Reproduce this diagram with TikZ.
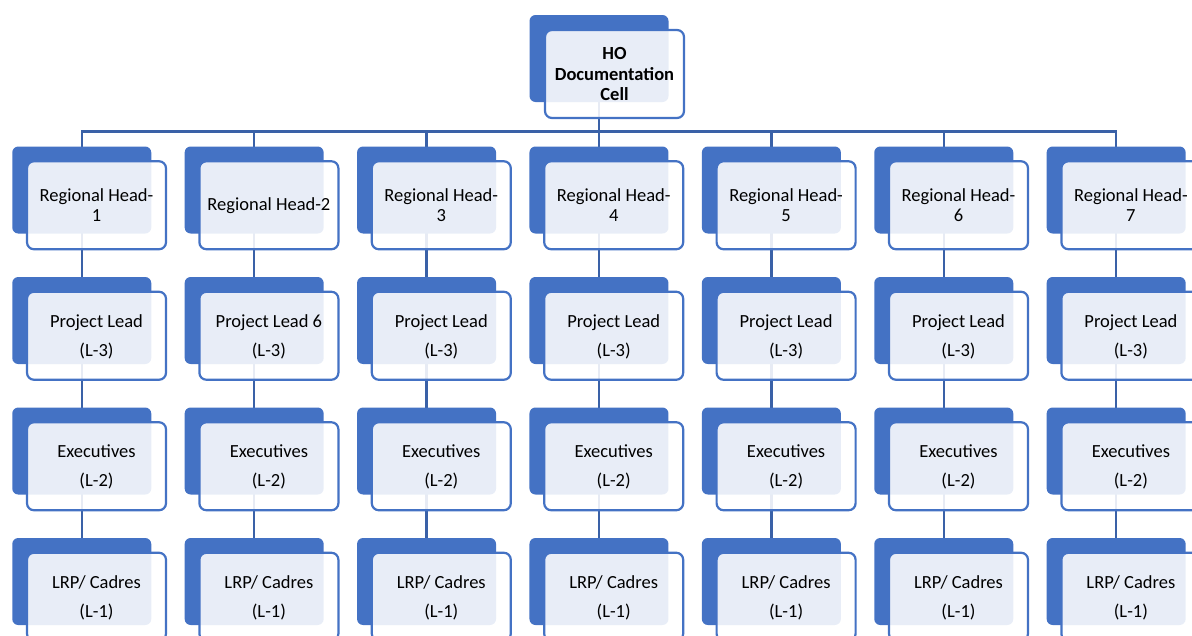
\documentclass[tikz,border=0pt]{standalone}
\usepackage{fontspec}
\setmainfont{Carlito}
\pgfdeclarelayer{background}
\pgfsetlayers{background,main}
\definecolor{accent}{HTML}{4472C4}
\definecolor{connc}{HTML}{3A61A7}
\newcommand{\topstrut}{\rule{0pt}{15pt}}
\begin{document}
\begin{tikzpicture}[x=1pt,y=-1pt,
  backbox/.style={fill=accent, draw=none, rounded corners=6pt, minimum width=139pt, minimum height=87pt, inner sep=0pt, outer sep=0pt},
  frontbox/.style={draw=accent, line width=2.2pt, fill=white, fill opacity=0.88, draw opacity=1, text opacity=1, rounded corners=7pt, minimum width=139pt, minimum height=88pt, inner sep=0pt, align=center, font=\fontsize{18.5}{20}\selectfont, text=black},
  conn/.style={draw=connc, line width=2.5pt}]
\useasboundingbox (0,0) rectangle (1192,635);
\clip (0,0) rectangle (1192,635);
% top node
\node[backbox] (hoB) at (599,58.5) {};
\node[frontbox, font=\fontsize{18.5}{20.5}\selectfont\bfseries] (hoF) at (614.5,74) {HO\\Documentation\\Cell};
% row 1
\foreach \c/\t in {1/{Regional Head-\\1},2/{Regional Head-2},3/{Regional Head-\\3},4/{Regional Head-\\4},5/{Regional Head-\\5},6/{Regional Head-\\6},7/{Regional Head-\\7}} {
  \pgfmathsetmacro\bx{81.75+172.4*(\c-1)}
  \node[backbox] (b1\c) at (\bx,190) {};
  \node[frontbox] (f1\c) at ([xshift=14.75pt,yshift=-15.25pt]b1\c.center) {\t};
}
% row 2
\foreach \c/\t in {1/{Project Lead},2/{Project Lead 6},3/{Project Lead},4/{Project Lead},5/{Project Lead},6/{Project Lead},7/{Project Lead}} {
  \pgfmathsetmacro\bx{81.75+172.4*(\c-1)}
  \node[backbox] (b2\c) at (\bx,320.5) {};
  \node[frontbox] (f2\c) at ([xshift=14.75pt,yshift=-15.25pt]b2\c.center) {\topstrut\t\\[9pt](L-3)};
}
% row 3
\foreach \c in {1,...,7} {
  \pgfmathsetmacro\bx{81.75+172.4*(\c-1)}
  \node[backbox] (b3\c) at (\bx,451) {};
  \node[frontbox] (f3\c) at ([xshift=14.75pt,yshift=-15.25pt]b3\c.center) {\topstrut Executives\\[9pt](L-2)};
}
% row 4
\foreach \c in {1,...,7} {
  \pgfmathsetmacro\bx{81.75+172.4*(\c-1)}
  \node[backbox] (b4\c) at (\bx,581.5) {};
  \node[frontbox] (f4\c) at ([xshift=14.75pt,yshift=-15.25pt]b4\c.center) {\topstrut LRP/ Cadres\\[9pt](L-1)};
}
% connectors
\begin{pgfonlayer}{background}
\coordinate (bus) at (0,131.5);
\foreach \c in {1,...,7} {
  \draw[conn] (hoB.center) |- (b1\c.center |- bus) -- (b1\c.center);
  \draw[conn] (b1\c.center) -- (b2\c.center) -- (b3\c.center) -- (b4\c.center);
}
\end{pgfonlayer}
\end{tikzpicture}
\end{document}
